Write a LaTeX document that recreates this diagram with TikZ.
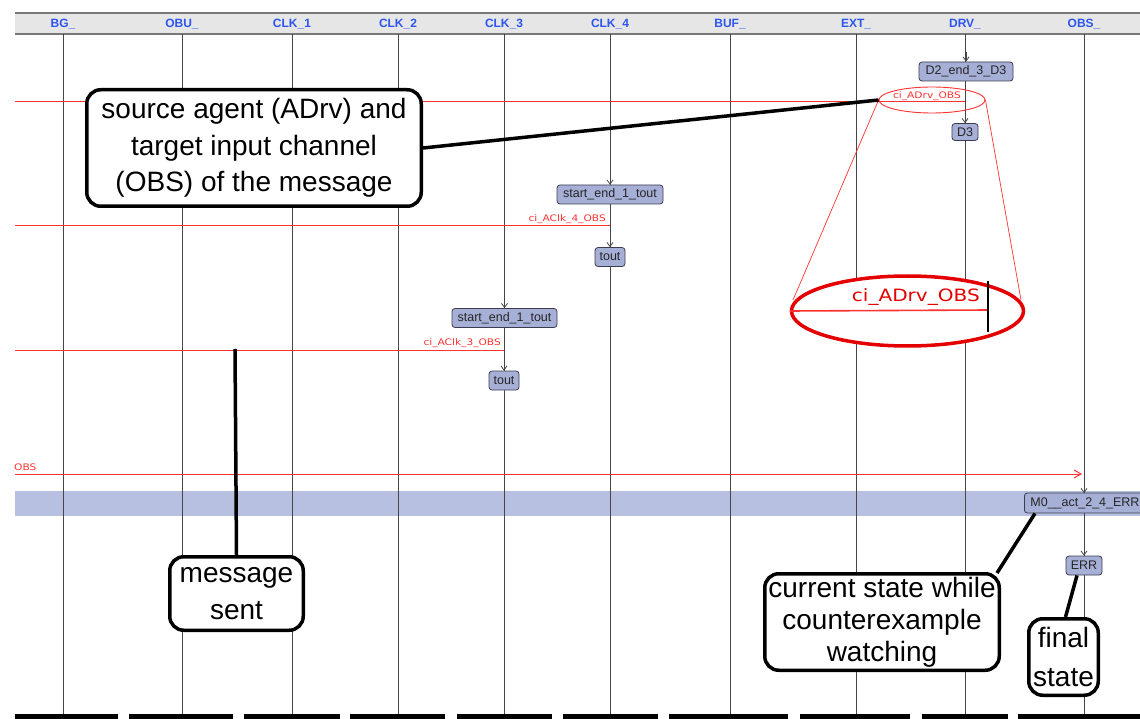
\documentclass[tikz,border=0pt]{standalone}
\usepackage{fontspec}
\setmainfont{Liberation Sans}
\newfontfamily\dejavu{DejaVu Sans}
\usetikzlibrary{arrows.meta,calc,shapes.geometric}
\definecolor{hdrblue}{RGB}{45,85,240}
\definecolor{hdrbg}{RGB}{230,230,230}
\definecolor{hdrline}{RGB}{120,120,120}
\definecolor{bandblue}{RGB}{184,192,226}
\definecolor{boxfill}{RGB}{166,175,214}
\definecolor{boxdraw}{RGB}{60,60,80}
\definecolor{lifegray}{RGB}{70,70,70}
\definecolor{msgred}{RGB}{255,50,50}
\tikzset{
  life/.style={draw=lifegray, line width=0.9pt},
  lifetip/.style={life, -{Straight Barb[length=4pt,width=6pt,line width=0.8pt]}},
  hdr/.style={text=hdrblue, font=\fontsize{12}{13}\selectfont\bfseries, inner sep=0pt},
  statebox/.style={draw=boxdraw, fill=boxfill, rounded corners=3pt, line width=0.8pt,
     minimum height=19pt, inner xsep=4pt, inner ysep=0pt, text=black!85,
     font=\fontsize{12.5}{14}\selectfont},
  msgline/.style={draw=msgred, line width=1pt},
  msglabel/.style={text=msgred, inner sep=0pt, font=\dejavu\fontsize{9}{10}\selectfont},
  callout/.style={draw=black, line width=3.5pt, rounded corners=14pt, fill=white,
     align=center, inner sep=0pt},
  calloutline/.style={draw=black, line width=3.5pt},
  endbar/.style={fill=black, draw=none}
}
\begin{document}
\begin{tikzpicture}[x=1pt,y=-1pt]
\useasboundingbox (0,0) rectangle (1140,719);
\fill[white] (0,0) rectangle (1140,719);
% header
\fill[hdrbg] (15,13) rectangle (1140,34);
\draw[hdrline, line width=2pt] (15,13) -- (1140,13);
\draw[hdrline, line width=1.2pt] (15,34) -- (1140,34);
\foreach \x/\t in {63/BG\_, 182/OBU\_, 292/CLK\_1, 398/CLK\_2, 504/CLK\_3, 610/CLK\_4, 730/BUF\_, 856/EXT\_, 965/DRV\_, 1084/OBS\_}
  \node[hdr] at (\x,24) {\t};
% blue band
\fill[bandblue] (15,491) rectangle (1140,516);
% lifelines
\foreach \x in {63,182,292,398,504,610,730,856,965,1084}
  \draw[life] (\x,34) -- (\x,714);
% state boxes
\node[statebox, minimum width=94pt] (d2) at (966,71.5) {D2\_end\_3\_D3};
\node[statebox, minimum width=26pt, minimum height=17pt] (d3) at (965,132) {D3};
\node[statebox, minimum width=106pt] (s4) at (610,194.5) {start\_end\_1\_tout};
\node[statebox, minimum width=30pt] (t4) at (610,257) {tout};
\node[statebox, minimum width=105pt] (s3) at (504.5,318) {start\_end\_1\_tout};
\node[statebox, minimum width=30pt] (t3) at (504,380.5) {tout};
\node[statebox, anchor=west, inner xsep=6pt, minimum height=20pt] (m0) at (1024,503) {M0\_\_act\_2\_4\_ERR};
\node[statebox, minimum width=36pt] (err) at (1084,565.5) {ERR};
% lifeline arrows
\draw[lifetip] ($(d2.north)+(0,-10)$) -- (d2.north);
\draw[lifetip] ($(d3.north)+(0,-10)$) -- (d3.north);
\draw[lifetip] ($(s4.north)+(0,-10)$) -- (s4.north);
\draw[lifetip] ($(t4.north)+(0,-10)$) -- (t4.north);
\draw[lifetip] ($(s3.north)+(0,-10)$) -- (s3.north);
\draw[lifetip] ($(t3.north)+(0,-10)$) -- (t3.north);
\coordinate (m0top) at (1084,493);
\draw[lifetip] ($(m0top)+(0,-10)$) -- (m0top);
\draw[lifetip] ($(err.north)+(0,-10)$) -- (err.north);
% message lines
\coordinate (drvm) at (965,102);
\coordinate (clk4m) at (610,226);
\coordinate (clk3m) at (504,350);
\coordinate (obsm) at (1082,474);
\draw[msgline] (15,102) -- (drvm);
\draw[msgline] (15,226) -- (clk4m);
\draw[msgline] (15,350) -- (clk3m);
\draw[msgline, -{Straight Barb[length=7pt,width=8pt,line width=1pt]}] (15,474) -- (obsm);
\node[msglabel, anchor=east] at (961,96) {\scalebox{1.18}[1]{ci\_ADrv\_OBS}};
\node[msglabel, anchor=east] at (606,219) {\scalebox{1.18}[1]{ci\_AClk\_4\_OBS}};
\node[msglabel, anchor=east] at (501,343) {\scalebox{1.18}[1]{ci\_AClk\_3\_OBS}};
\node[msglabel, anchor=west] at (14,467) {\scalebox{1.18}[1]{OBS}};
% zoom ellipse
\node[ellipse, draw=msgred, line width=0.9pt, minimum width=106pt, minimum height=26pt, inner sep=0pt] (sel) at (932,100) {};
\draw[msgred, line width=0.7pt] (sel.west) -- (793,300);
\draw[msgred, line width=0.7pt] (sel.east) -- (1021,300);
\node[ellipse, draw=red!90!black, fill=white, line width=3.5pt, minimum width=232pt, minimum height=70pt, inner sep=0pt] (bel) at (907.5,311) {};
\draw[msgred, line width=1.6pt] (bel.west) -- (988,310);
\draw[black, line width=1.4pt] (988,281) -- (988,332);
\node[text=red!90!black, inner sep=0pt, anchor=east, font=\dejavu\fontsize{17}{19}\selectfont] at (980,297) {\scalebox{1.18}[1]{ci\_ADrv\_OBS}};
% callouts
\node[callout, minimum width=334.5pt, minimum height=116.5pt, font=\fontsize{28}{36.7}\selectfont] (src) at (254,148) {source agent (ADrv) and\\target input channel\\(OBS) of the message};
\coordinate (msgpt) at (235,349);
\node[callout, minimum width=133.5pt, minimum height=73.5pt, font=\fontsize{28}{37}\selectfont] (msg) at (236.5,593.5) {message\\sent};
\node[callout, minimum width=234.5pt, minimum height=96.5pt, font=\fontsize{28}{32}\selectfont] (cur) at (882,622) {current state while\\counterexample\\watching};
\node[callout, minimum width=69.5pt, minimum height=76.5pt, font=\fontsize{28}{39}\selectfont] (fin) at (1063.5,657) {final\\state};
\draw[calloutline] (src.east) -- (sel.west);
\draw[calloutline] (msg.north) -- (msgpt);
\draw[calloutline] ($(cur.north east)+(-4,1)$) -- ($(m0.south west)+(11,0)$);
\draw[calloutline] ($(err.south)+(-7,0)$) -- ($(fin.north)+(2,0)$);
% bottom bars
\foreach \a/\b in {15/118, 129/233, 244/340, 350/445, 457/552, 563/658, 669/788, 800/910, 922/1008, 1018/1140}
  \fill[endbar] (\a,713.5) rectangle (\b,719);
\end{tikzpicture}
\end{document}
